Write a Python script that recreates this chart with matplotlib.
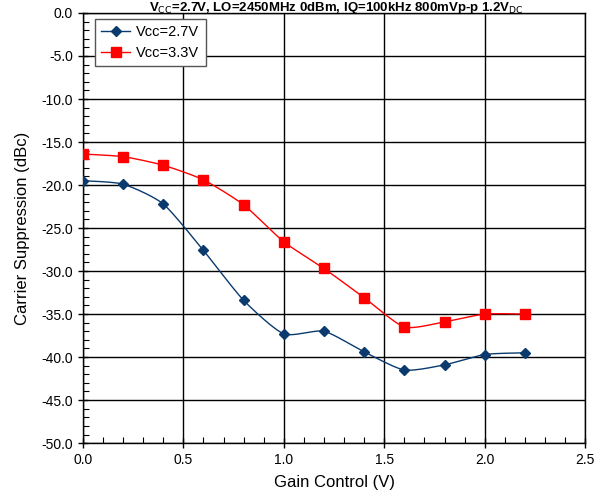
import numpy as np
import matplotlib
matplotlib.use("Agg")
import matplotlib.pyplot as plt
from matplotlib.ticker import MultipleLocator, FormatStrFormatter
from matplotlib.lines import Line2D

plt.rcParams['font.family'] = ['Liberation Sans', 'DejaVu Sans']
plt.rcParams['axes.unicode_minus'] = False

gain = [0.0, 0.2, 0.4, 0.6, 0.8, 1.0, 1.2, 1.4, 1.6, 1.8, 2.0, 2.2]
vcc27 = [-19.5, -19.9, -22.2, -27.6, -33.4, -37.3, -37.0, -39.4, -41.5, -40.9, -39.7, -39.5]
vcc33 = [-16.4, -16.7, -17.7, -19.4, -22.3, -26.6, -29.7, -33.1, -36.5, -35.9, -35.0, -35.0]
title = r"V$_{\rm CC}$=2.7V, LO=2450MHz 0dBm, IQ=100kHz 800mVp-p 1.2V$_{\rm DC}$"


def smooth(x, y, n=20):
    x = np.asarray(x, float); y = np.asarray(y, float)
    P = np.column_stack([x, y])
    P = np.vstack([P[0], P, P[-1]])
    out = []
    for i in range(1, len(P) - 2):
        p0, p1, p2, p3 = P[i - 1], P[i], P[i + 1], P[i + 2]
        t = np.linspace(0, 1, n, endpoint=False)[:, None]
        m1 = (p2 - p0) / 2 * 0.66
        m2 = (p3 - p1) / 2 * 0.66
        h00 = 2 * t**3 - 3 * t**2 + 1
        h10 = t**3 - 2 * t**2 + t
        h01 = -2 * t**3 + 3 * t**2
        h11 = t**3 - t**2
        out.append(h00 * p1 + h10 * m1 + h01 * p2 + h11 * m2)
    out.append(P[-2][None, :])
    c = np.vstack(out)
    return c[:, 0], c[:, 1]


fig = plt.figure(figsize=(5.96, 4.99), dpi=100)
ax = fig.add_axes([0.139, 0.112, 0.843, 0.862])

blue = '#0a3a6e'
red = '#ff0000'
sx, sy = smooth(gain, vcc27)
ax.plot(sx, sy, color=blue, lw=1.0, zorder=3)
ax.plot(gain, vcc27, ls='none', marker='D', ms=5, color=blue, zorder=4)
sx, sy = smooth(gain, vcc33)
ax.plot(sx, sy, color=red, lw=1.0, zorder=3)
ax.plot(gain, vcc33, ls='none', marker='s', ms=7, color=red, zorder=4)

h1 = Line2D([], [], color=blue, lw=1.0, marker='D', ms=5)
h2 = Line2D([], [], color=red, lw=1.0, marker='s', ms=7)
leg = ax.legend([h1, h2], ['Vcc=2.7V', 'Vcc=3.3V'], loc='upper left',
                bbox_to_anchor=(0.012, 1.0), fancybox=False, edgecolor='#555555',
                framealpha=1, fontsize=10.5, handlelength=2.0, handletextpad=0.4,
                borderpad=0.45, labelspacing=0.45, borderaxespad=0.4)
leg.get_frame().set_linewidth(1.0)

ax.set_xlim(0, 2.5)
ax.set_ylim(-50, 0)
ax.xaxis.set_major_locator(MultipleLocator(0.5))
ax.xaxis.set_minor_locator(MultipleLocator(0.1))
ax.yaxis.set_major_locator(MultipleLocator(5))
ax.yaxis.set_minor_locator(MultipleLocator(1))
ax.xaxis.set_major_formatter(FormatStrFormatter('%.1f'))
ax.yaxis.set_major_formatter(FormatStrFormatter('%.1f'))
ax.grid(True, which='major', color='black', lw=1.0)
ax.tick_params(which='major', direction='inout', length=7, width=1, labelsize=10, color='black')
ax.tick_params(which='minor', direction='in', length=4, width=0.8)
ax.tick_params(top=False, right=False, which='both')
for s in ax.spines.values():
    s.set_linewidth(1.0)
    s.set_color('black')
ax.set_xlabel('Gain Control (V)', fontsize=12, labelpad=6)
ax.set_ylabel('Carrier Suppression (dBc)', fontsize=12, labelpad=8)
fig.text(0.565, 1 - 10.5 / 499, title, ha='center', va='baseline', fontsize=9.5, fontweight='bold')

fig.savefig('out.png', dpi=100)
